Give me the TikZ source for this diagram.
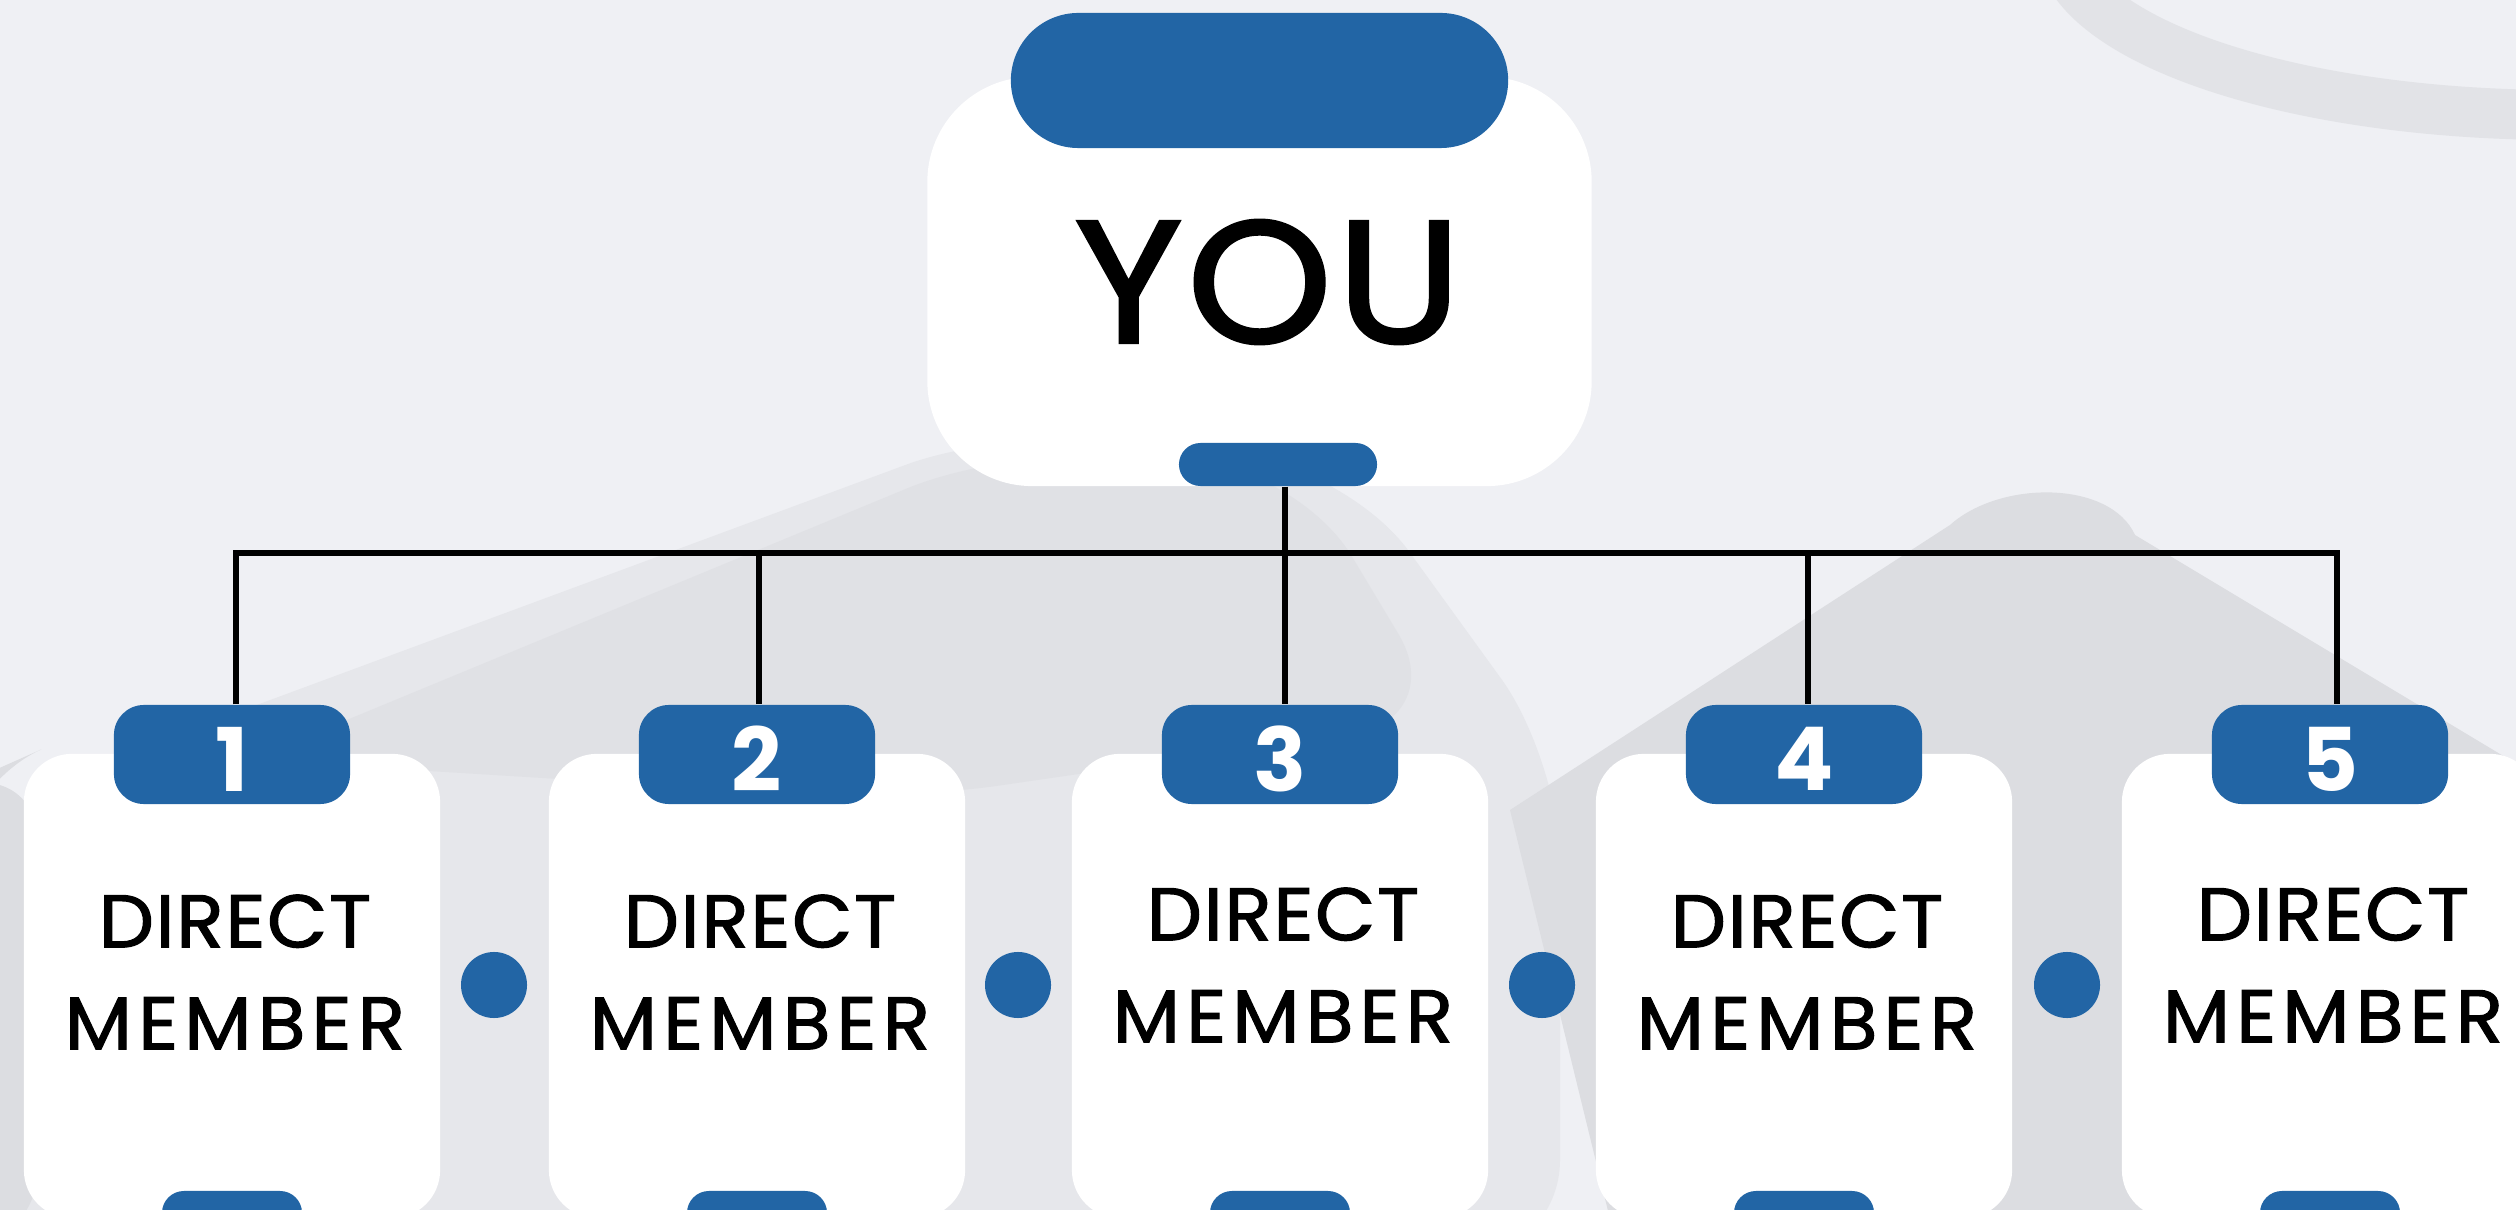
\documentclass[tikz,border=0pt]{standalone}
\usepackage{fontspec}
\setmainfont{Poppins}
\newfontfamily\youfont{Poppins}[FakeBold=2, FakeStretch=1.06, LetterSpace=3]
\newfontfamily\memfont{Poppins}[FakeBold=1.5, FakeStretch=1.05]
\definecolor{bgc}{HTML}{EFF0F4}
\definecolor{shadec}{HTML}{DCDDE1}
\definecolor{bandc}{HTML}{E0E1E5}
\definecolor{midc}{HTML}{E6E7EB}
\definecolor{arcc}{HTML}{E2E3E7}
\definecolor{blu}{HTML}{2265A5}
\begin{document}
\begin{tikzpicture}[x=0.01cm,y=-0.01cm,
  youbox/.style={fill=white, rounded corners=1.05cm, minimum width=6.64cm, minimum height=4.09cm, inner sep=0},
  youcap/.style={fill=blu, rounded corners=0.675cm, minimum width=4.97cm, minimum height=1.35cm, inner sep=0},
  youpillst/.style={fill=blu, rounded corners=0.215cm, minimum width=1.98cm, minimum height=0.43cm, inner sep=0},
  youtxt/.style={inner sep=0, font=\youfont\fontsize{49.3}{49.3}\selectfont},
  card/.style={fill=white, rounded corners=0.48cm, minimum width=4.16cm, minimum height=4.64cm, inner sep=0},
  numtab/.style={fill=blu, rounded corners=0.30cm, minimum width=2.36cm, minimum height=0.99cm, inner sep=0},
  numtxt/.style={inner sep=0, text=white, font=\fontsize{25}{25}\selectfont\bfseries},
  foot/.style={fill=blu, rounded corners=0.22cm, minimum width=1.40cm, minimum height=0.60cm, inner sep=0},
  linkdot/.style={circle, fill=blu, minimum size=0.66cm, inner sep=0},
  membertext/.style={inner sep=0, align=center, font=\memfont\fontsize{21.2}{29}\selectfont},
  wire/.style={line width=1.6pt, black},
  bgpatch/.style={fill=#1, rounded corners=1cm}]
\useasboundingbox (0,0) rectangle (2516,1210);
\clip (0,0) rectangle (2516,1210);
% background
\fill[bgc] (0,0) rectangle (2516,1210);
\fill[bgpatch=midc] (0,800) -- (1000,430) -- (1350,470) -- (1560,760) -- (1560,1260) -- (-50,1260) -- cycle;
\fill[bgpatch=bandc] (250,760) -- (1000,450) -- (1300,470) -- (1450,720) -- (900,800) -- cycle;
\fill[bgpatch=shadec] (-50,790) -- (40,750) -- (40,1260) -- (-50,1260) -- cycle;
\fill[shadec] (1510,810) -- (1950,525) .. controls (2000,480) and (2110,480) .. (2135,535) -- (2560,790) -- (2560,1260) -- (1620,1260) -- cycle;
\draw[arcc, line width=0.5cm] (2560,-60) ellipse (500 and 175);
% top node
\node[youbox] (you) at (1259.5,281.5) {};
\node[youcap] (youcap) at (1259.5,80.5) {};
\node[youtxt] (youtext) at (1268,282) {YOU};
\node[youpillst] (youpill) at (1278,464.5) {};
% members
\foreach \i/\cx/\ty in {1/232/972, 2/757/972, 3/1280/965, 4/1804/972, 5/2330/965}{
  \node[card] (m\i) at (\cx,986) {};
  \node[numtab] (t\i) at (\cx,754.5) {};
  \node[numtxt] (n\i) at (\cx,759) {\i};
  \node[foot] (f\i) at (\cx,1221) {};
  \node[membertext] (x\i) at (\cx+3,\ty) {{\addfontfeatures{LetterSpace=2}DIRECT}\\{\addfontfeatures{LetterSpace=8}MEMBER}};
}
\foreach \i/\dx in {1/494,2/1018,3/1542,4/2067}{
  \node[linkdot] (d\i) at (\dx,985) {};
}
% connectors
\coordinate (b1) at (236,553);
\coordinate (b2) at (759,553);
\coordinate (b3) at (1285,553);
\coordinate (b4) at (1808,553);
\coordinate (b5) at (2337,553);
\draw[wire] (b1 |- t1.north) -- (b1) -- (b5) -- (b5 |- t5.north);
\draw[wire] (b2) -- (b2 |- t2.north);
\draw[wire] (b4) -- (b4 |- t4.north);
\draw[wire] (youpill.south -| b3) -- (b3 |- t3.north);
\end{tikzpicture}
\end{document}
